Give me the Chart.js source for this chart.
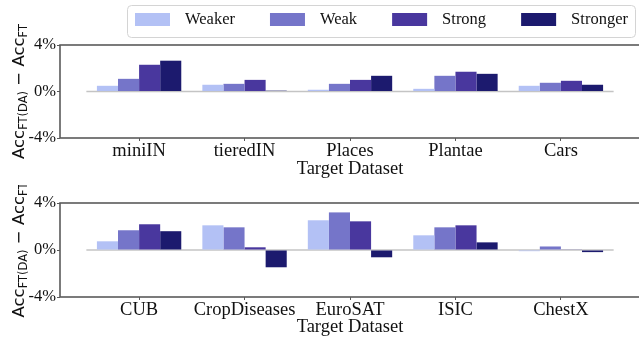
<!DOCTYPE html>
<html>
<head>
<meta charset="utf-8">
<script src="https://cdn.jsdelivr.net/npm/chart.js@4/dist/chart.umd.min.js"></script>
<style>
  html, body { margin: 0; padding: 0; background: #fff; overflow: hidden; }
  #wrap { position: relative; width: 639px; height: 338px; overflow: hidden; }
  canvas { position: absolute; left: 0; }
</style>
</head>
<body>
<div id="wrap">
  <canvas id="topChart" width="642" height="185" style="top:0"></canvas>
  <canvas id="bottomChart" width="642" height="153" style="top:185px"></canvas>
</div>
<script>
// series shared by both panels
const seriesNames = ["Weaker", "Weak", "Strong", "Stronger"];
const seriesColors = ["#b3c1f5", "#7575c9", "#49379e", "#1c1a6e"];

// top panel
const topTargets = ["miniIN", "tieredIN", "Places", "Plantae", "Cars"];
const topWeaker = [0.49, 0.58, 0.15, 0.23, 0.49];
const topWeak = [1.09, 0.66, 0.66, 1.35, 0.75];
const topStrong = [2.3, 1.0, 1.0, 1.7, 0.92];
const topStronger = [2.65, 0.07, 1.35, 1.52, 0.58];

// bottom panel
const bottomTargets = ["CUB", "CropDiseases", "EuroSAT", "ISIC", "ChestX"];
const bottomWeaker = [0.74, 2.1, 2.53, 1.25, -0.1];
const bottomWeak = [1.68, 1.93, 3.2, 1.93, 0.3];
const bottomStrong = [2.19, 0.23, 2.44, 2.1, 0.03];
const bottomStronger = [1.6, -1.47, -0.62, 0.65, -0.18];

const yTicks = [-4, 0, 4];
const xTitle = "Target Dataset";

const serif = "'Liberation Serif', 'Times New Roman', serif";
const sans = "'DejaVu Sans', sans-serif";
const spineColor = "#5a5a5a";

// box around the plot (top/right spines too)
const framePlugin = {
  id: "frame",
  afterDraw(chart) {
    const a = chart.chartArea;
    const ctx = chart.ctx;
    ctx.save();
    ctx.strokeStyle = spineColor;
    ctx.lineWidth = 1.6;
    ctx.strokeRect(a.left, a.top, a.right - a.left, a.bottom - a.top);
    ctx.restore();
  },
};

// rotated y title with subscripts
const yTitlePlugin = {
  id: "yTitle",
  afterDraw(chart) {
    const a = chart.chartArea;
    const ctx = chart.ctx;
    const parts = [
      { t: "Acc", size: 16.5, sub: false },
      { t: "FT(DA)", size: 11.5, sub: true },
      { t: " \u2212 ", size: 16.5, sub: false },
      { t: "Acc", size: 16.5, sub: false },
      { t: "FT", size: 11.5, sub: true },
    ];
    ctx.save();
    let total = 0;
    parts.forEach((p) => {
      ctx.font = p.size + "px " + sans;
      p.w = ctx.measureText(p.t).width;
      total += p.w;
    });
    ctx.translate(24, (a.top + a.bottom) / 2);
    ctx.rotate(-Math.PI / 2);
    ctx.fillStyle = "#111";
    ctx.textBaseline = "alphabetic";
    let x = -total / 2;
    parts.forEach((p) => {
      ctx.font = p.size + "px " + sans;
      ctx.fillText(p.t, x, p.sub ? 3 : 0);
      x += p.w;
    });
    ctx.restore();
  },
};

// legend with a rounded frame, like the matplotlib one
const legendPlugin = {
  id: "boxLegend",
  afterDraw(chart) {
    const ctx = chart.ctx;
    ctx.save();
    ctx.fillStyle = "#fff";
    ctx.strokeStyle = "#d4d4d4";
    ctx.lineWidth = 1;
    ctx.beginPath();
    ctx.roundRect(127.5, 5.5, 508, 32, 4);
    ctx.fill();
    ctx.stroke();
    ctx.font = "16.5px " + serif;
    ctx.textBaseline = "middle";
    let x = 135;
    chart.data.datasets.forEach((ds) => {
      if (ds.type === "line") return;
      ctx.fillStyle = ds.backgroundColor;
      ctx.fillRect(x, 13, 35, 13);
      ctx.fillStyle = "#111";
      ctx.fillText(ds.label, x + 50, 20);
      x += 50 + ctx.measureText(ds.label).width + 35;
    });
    ctx.restore();
  },
};

function makeChart(id, targets, series, axisHeight, titlePadBottom, topPad, extraPlugins) {
  const datasets = series.map((vals, i) => ({
    type: "bar",
    label: seriesNames[i],
    data: vals.map((v, j) => ({ x: j, y: v })),
    backgroundColor: seriesColors[i],
    borderWidth: 0,
    categoryPercentage: 0.8,
    barPercentage: 1.0,
    order: 1,
  }));
  // zero reference line spanning the groups
  datasets.push({
    type: "line",
    label: "zero",
    data: [{ x: -0.5, y: 0 }, { x: targets.length - 0.5, y: 0 }],
    borderColor: "#c4c4c4",
    borderWidth: 1.6,
    pointRadius: 0,
    order: 5,
  });

  return new Chart(document.getElementById(id), {
    data: { datasets: datasets },
    options: {
      responsive: false,
      animation: false,
      layout: { padding: { top: topPad, left: 0, right: 2, bottom: 0 } },
      plugins: { legend: { display: false }, tooltip: { enabled: false } },
      scales: {
        x: {
          type: "linear",
          min: -0.75,
          max: targets.length - 0.25,
          offset: false,
          afterBuildTicks: (axis) => {
            axis.ticks = targets.map((t, i) => ({ value: i }));
          },
          afterFit: (axis) => {
            axis.height = axisHeight;
          },
          ticks: {
            autoSkip: false,
            maxRotation: 0,
            padding: 1,
            color: "#111",
            font: { family: serif, size: 18.5, lineHeight: 1 },
            callback: (v) => targets[v],
          },
          grid: { drawOnChartArea: false, tickLength: 3, color: spineColor, offset: false },
          border: { display: false },
          title: {
            display: true,
            text: xTitle,
            color: "#111",
            font: { family: serif, size: 18.5, lineHeight: 1 },
            padding: { top: 0, bottom: titlePadBottom },
          },
        },
        y: {
          min: -4,
          max: 4,
          afterBuildTicks: (axis) => {
            axis.ticks = yTicks.map((v) => ({ value: v }));
          },
          afterFit: (axis) => {
            axis.width = 60;
          },
          ticks: {
            padding: 1,
            color: "#111",
            font: { family: serif, size: 16.5 },
            callback: (v) => v + "%",
          },
          grid: { drawOnChartArea: false, tickLength: 3, color: spineColor },
          border: { display: false },
        },
      },
    },
    plugins: [framePlugin, yTitlePlugin].concat(extraPlugins),
  });
}

makeChart("topChart", topTargets, [topWeaker, topWeak, topStrong, topStronger], 47, 7, 45, [legendPlugin]);
makeChart("bottomChart", bottomTargets, [bottomWeaker, bottomWeak, bottomStrong, bottomStronger], 41, 2, 18, []);
</script>
</body>
</html>
